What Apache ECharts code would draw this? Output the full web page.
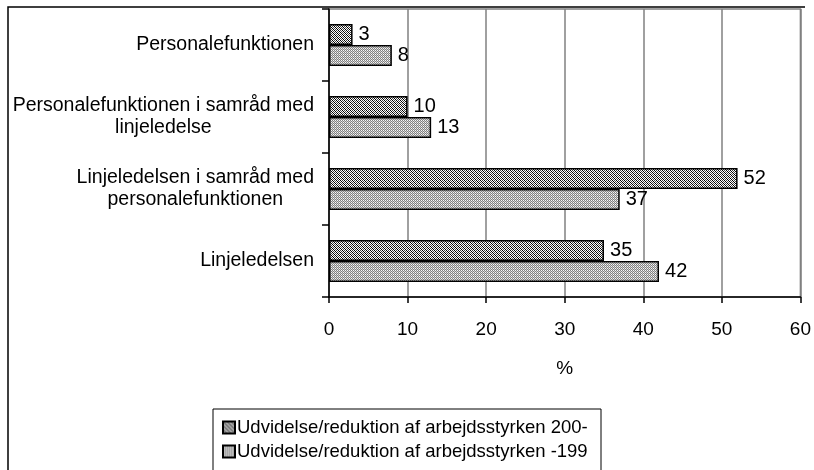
<!DOCTYPE html>
<html>
<head>
<meta charset="utf-8">
<script src="https://cdn.jsdelivr.net/npm/echarts@6/dist/echarts.min.js"></script>
<style>
html,body{margin:0;padding:0;background:#fff;}
#c{width:814px;height:470px;}
</style>
</head>
<body>
<div id="c"></div>
<script>
var categories = [
  'Personalefunktionen',
  'Personalefunktionen i samråd med\nlinjeledelse',
  'Linjeledelsen i samråd med\npersonalefunktionen',
  'Linjeledelsen'
];
var seriesNames = [
  'Udvidelse/reduktion af arbejdsstyrken 200-',
  'Udvidelse/reduktion af arbejdsstyrken -199'
];
var values200 = [3, 10, 52, 35];
var values199 = [8, 13, 37, 42];
var xTicks = [0, 10, 20, 30, 40, 50, 60];

function makePattern(kind) {
  var n = 4;
  var cv = document.createElement('canvas');
  cv.width = n; cv.height = n;
  var ctx = cv.getContext('2d');
  ctx.fillStyle = '#ffffff';
  ctx.fillRect(0, 0, n, n);
  for (var x = 0; x < n; x++) {
    for (var y = 0; y < n; y++) {
      var c = null;
      if (kind === 'diag') {
        if ((x + y) % 2 === 0 && ((x - y + 8) % 4 !== 2)) c = '#000000';
        else if ((x + y) % 2 === 0) c = '#444444';
      } else {
        if ((x + y) % 2 === 0) c = '#808080';
        else if (x % 2 === 0) c = '#d0d0d0';
        else c = '#f8f8f8';
      }
      if (c) { ctx.fillStyle = c; ctx.fillRect(x, y, 1, 1); }
    }
  }
  return { image: cv, repeat: 'repeat' };
}
var pat1 = makePattern('diag');
var pat2 = makePattern('dots');

var FONT = 'Liberation Sans, Arial, sans-serif';
var chart = echarts.init(document.getElementById('c'), null, { renderer: 'canvas' });
var labelCfg = {
  show: true, position: 'right', distance: 6,
  color: '#000', fontSize: 20, fontFamily: FONT
};
chart.setOption({
  animation: false,
  backgroundColor: '#fff',
  grid: { left: 329, right: 11, top: 9, bottom: 173, show: true, borderColor: '#808080', borderWidth: 1.5, backgroundColor: 'transparent' },
  xAxis: {
    type: 'value', min: xTicks[0], max: xTicks[xTicks.length - 1], interval: 10,
    name: '%', nameLocation: 'middle', nameGap: 62,
    nameTextStyle: { color: '#000', fontSize: 19, fontFamily: FONT },
    axisLine: { show: true, lineStyle: { color: '#000', width: 1.5 } },
    axisTick: { show: true, length: 6, lineStyle: { color: '#000', width: 1.5 } },
    axisLabel: { color: '#000', fontSize: 19, fontFamily: FONT, margin: 23 },
    splitLine: { show: true, lineStyle: { color: '#808080', width: 1.5 } }
  },
  yAxis: {
    type: 'category', inverse: true, data: categories,
    axisLine: { show: true, lineStyle: { color: '#000', width: 1.5 } },
    axisTick: { show: true, length: 7, lineStyle: { color: '#000', width: 1.5 } },
    axisLabel: {
      color: '#000', fontSize: 19.5, fontFamily: FONT, margin: 15, align: 'right',
      formatter: function (v) {
        return v.split('\n').map(function (l) { return '{c|' + l + '}'; }).join('\n');
      },
      rich: { c: { align: 'center', fontSize: 19.5, lineHeight: 22, fontFamily: FONT, color: '#000' } }
    },
    splitLine: { show: false }
  },
  legend: {
    orient: 'vertical', left: 217, top: 413, itemWidth: 12, itemHeight: 12, itemGap: 5,
    icon: 'rect',
    textStyle: { color: '#000', fontSize: 18.5, fontFamily: FONT, padding: [0, 0, 0, -3] },
    data: seriesNames
  },
  graphic: [
    { type: 'polyline', shape: { points: [[8, 480], [8, 7], [805, 7]] }, style: { stroke: '#000', lineWidth: 1.5, fill: null }, silent: true },
    { type: 'rect', shape: { x: 213, y: 409, width: 388, height: 80 }, style: { stroke: '#000', lineWidth: 1, fill: null }, silent: true, z: -1 }
  ],
  series: [
    {
      name: seriesNames[0], type: 'bar', data: values200,
      barGap: '0%', barCategoryGap: '42%',
      itemStyle: { color: pat1, borderColor: '#000', borderWidth: 1.5 },
      label: labelCfg
    },
    {
      name: seriesNames[1], type: 'bar', data: values199,
      barGap: '0%', barCategoryGap: '42%',
      itemStyle: { color: pat2, borderColor: '#000', borderWidth: 1.5 },
      label: labelCfg
    }
  ]
});
</script>
</body>
</html>
